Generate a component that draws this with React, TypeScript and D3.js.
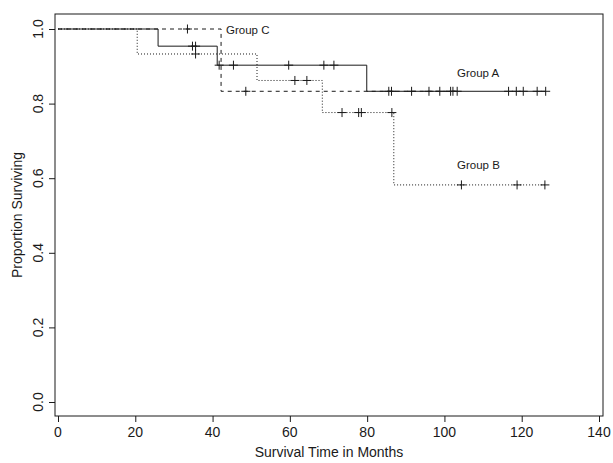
import React, { useRef, useEffect } from 'react'
import * as d3 from 'd3'

// Kaplan-Meier steps: time of each drop and survival after it
const groupATimes = [0, 25.9, 41.2, 79.9]
const groupASurv = [1, 0.954, 0.903, 0.833]
const groupACensor = [34.8, 35.6, 41.7, 45.4, 59.7, 68.8, 71.4, 85.6, 91.5, 96, 98.8, 101.6, 102.2, 103.3, 116.6, 118.6, 120.4, 124, 126.2]
const groupAEnd = 126.2

const groupBTimes = [0, 20.5, 51.5, 68.4, 86.9]
const groupBSurv = [1, 0.933, 0.862, 0.776, 0.582]
const groupBCensor = [35.6, 61.3, 64.4, 73.5, 77.8, 78.5, 86.4, 104.4, 118.8, 126]
const groupBEnd = 126

const groupCTimes = [0, 42.2]
const groupCSurv = [1, 0.833]
const groupCCensor = [33.5, 48.6, 86.3]
const groupCEnd = 104

const xTicks = [0, 20, 40, 60, 80, 100, 120, 140]
const yTicks = [0, 0.2, 0.4, 0.6, 0.8, 1.0]

const FONT = '"Liberation Sans", Arial, Helvetica, sans-serif'
const INK = '#1a1a1a'

function stepPoints(times: number[], surv: number[], end: number): [number, number][] {
  const pts: [number, number][] = times.map((t, i) => [t, surv[i]])
  pts.push([end, surv[surv.length - 1]])
  return pts
}

function survAt(times: number[], surv: number[], t: number) {
  let s = 1
  times.forEach((tt, i) => {
    if (tt <= t) s = surv[i]
  })
  return s
}

export default function App() {
  const svgRef = useRef<SVGSVGElement | null>(null)

  useEffect(() => {
    if (!svgRef.current) return
    const svg = d3.select(svgRef.current)
    svg.selectAll('*').remove()

    const box = { left: 55, right: 603, top: 14, bottom: 416 }

    const x = d3.scaleLinear().domain([0, 140]).range([58, 599])
    const y = d3.scaleLinear().domain([0, 1]).range([402, 29])

    // frame
    svg
      .append('rect')
      .attr('x', box.left)
      .attr('y', box.top)
      .attr('width', box.right - box.left)
      .attr('height', box.bottom - box.top)
      .attr('fill', 'none')
      .attr('stroke', INK)
      .attr('stroke-width', 1)

    // x axis
    const gx = svg
      .append('g')
      .attr('transform', `translate(0,${box.bottom})`)
      .call(d3.axisBottom(x).tickValues(xTicks).tickSize(6).tickSizeOuter(0).tickFormat(() => ''))
    gx.select('.domain').remove()
    gx.selectAll('.tick line').attr('stroke', INK)

    svg
      .append('g')
      .selectAll('text')
      .data(xTicks)
      .join('text')
      .attr('x', (d) => x(d))
      .attr('y', 437)
      .attr('text-anchor', 'middle')
      .attr('font-family', FONT)
      .attr('font-size', 14)
      .attr('fill', INK)
      .text((d) => String(d))

    // y axis
    const gy = svg
      .append('g')
      .attr('transform', `translate(${box.left},0)`)
      .call(d3.axisLeft(y).tickValues(yTicks).tickSize(6).tickSizeOuter(0).tickFormat(() => ''))
    gy.select('.domain').remove()
    gy.selectAll('.tick line').attr('stroke', INK)

    svg
      .append('g')
      .selectAll('text')
      .data(yTicks)
      .join('text')
      .attr('transform', (d) => `translate(43,${y(d)}) rotate(-90)`)
      .attr('text-anchor', 'middle')
      .attr('font-family', FONT)
      .attr('font-size', 14)
      .attr('fill', INK)
      .text((d) => d.toFixed(1))

    // axis titles
    svg
      .append('text')
      .attr('x', (box.left + box.right) / 2)
      .attr('y', 457)
      .attr('text-anchor', 'middle')
      .attr('font-family', FONT)
      .attr('font-size', 14)
      .attr('fill', INK)
      .text('Survival Time in Months')

    svg
      .append('text')
      .attr('transform', `translate(22,${(box.top + box.bottom) / 2}) rotate(-90)`)
      .attr('text-anchor', 'middle')
      .attr('font-family', FONT)
      .attr('font-size', 14)
      .attr('fill', INK)
      .text('Proportion Surviving')

    const line = d3
      .line<[number, number]>()
      .x((d) => x(d[0]))
      .y((d) => y(d[1]))
      .curve(d3.curveStepAfter)

    const groups = [
      { times: groupBTimes, surv: groupBSurv, censor: groupBCensor, end: groupBEnd, dash: '1,2' },
      { times: groupCTimes, surv: groupCSurv, censor: groupCCensor, end: groupCEnd, dash: '4,4' },
      { times: groupATimes, surv: groupASurv, censor: groupACensor, end: groupAEnd, dash: null },
    ]

    const plot = svg.append('g')
    groups.forEach((g) => {
      plot
        .append('path')
        .datum(stepPoints(g.times, g.surv, g.end))
        .attr('d', line)
        .attr('fill', 'none')
        .attr('stroke', INK)
        .attr('stroke-width', 1)
        .attr('stroke-dasharray', g.dash)

      const r = 4.5
      plot
        .append('g')
        .selectAll('path')
        .data(g.censor)
        .join('path')
        .attr('d', (t) => {
          const cx = x(t)
          const cy = y(survAt(g.times, g.surv, t))
          return `M${cx - r},${cy}H${cx + r}M${cx},${cy - r}V${cy + r}`
        })
        .attr('fill', 'none')
        .attr('stroke', INK)
        .attr('stroke-width', 1)
    })

    // group labels
    const labels = [
      { text: 'Group C', px: 226, py: 34 },
      { text: 'Group A', px: 457, py: 77 },
      { text: 'Group B', px: 457, py: 169 },
    ]
    svg
      .append('g')
      .selectAll('text')
      .data(labels)
      .join('text')
      .attr('x', (d) => d.px)
      .attr('y', (d) => d.py)
      .attr('font-family', FONT)
      .attr('font-size', 11.5)
      .attr('fill', INK)
      .text((d) => d.text)
  }, [])

  return (
    <svg
      ref={svgRef}
      width={613}
      height={463}
      style={{ position: 'absolute', left: 0, top: 0, display: 'block', background: '#fff' }}
    />
  )
}
